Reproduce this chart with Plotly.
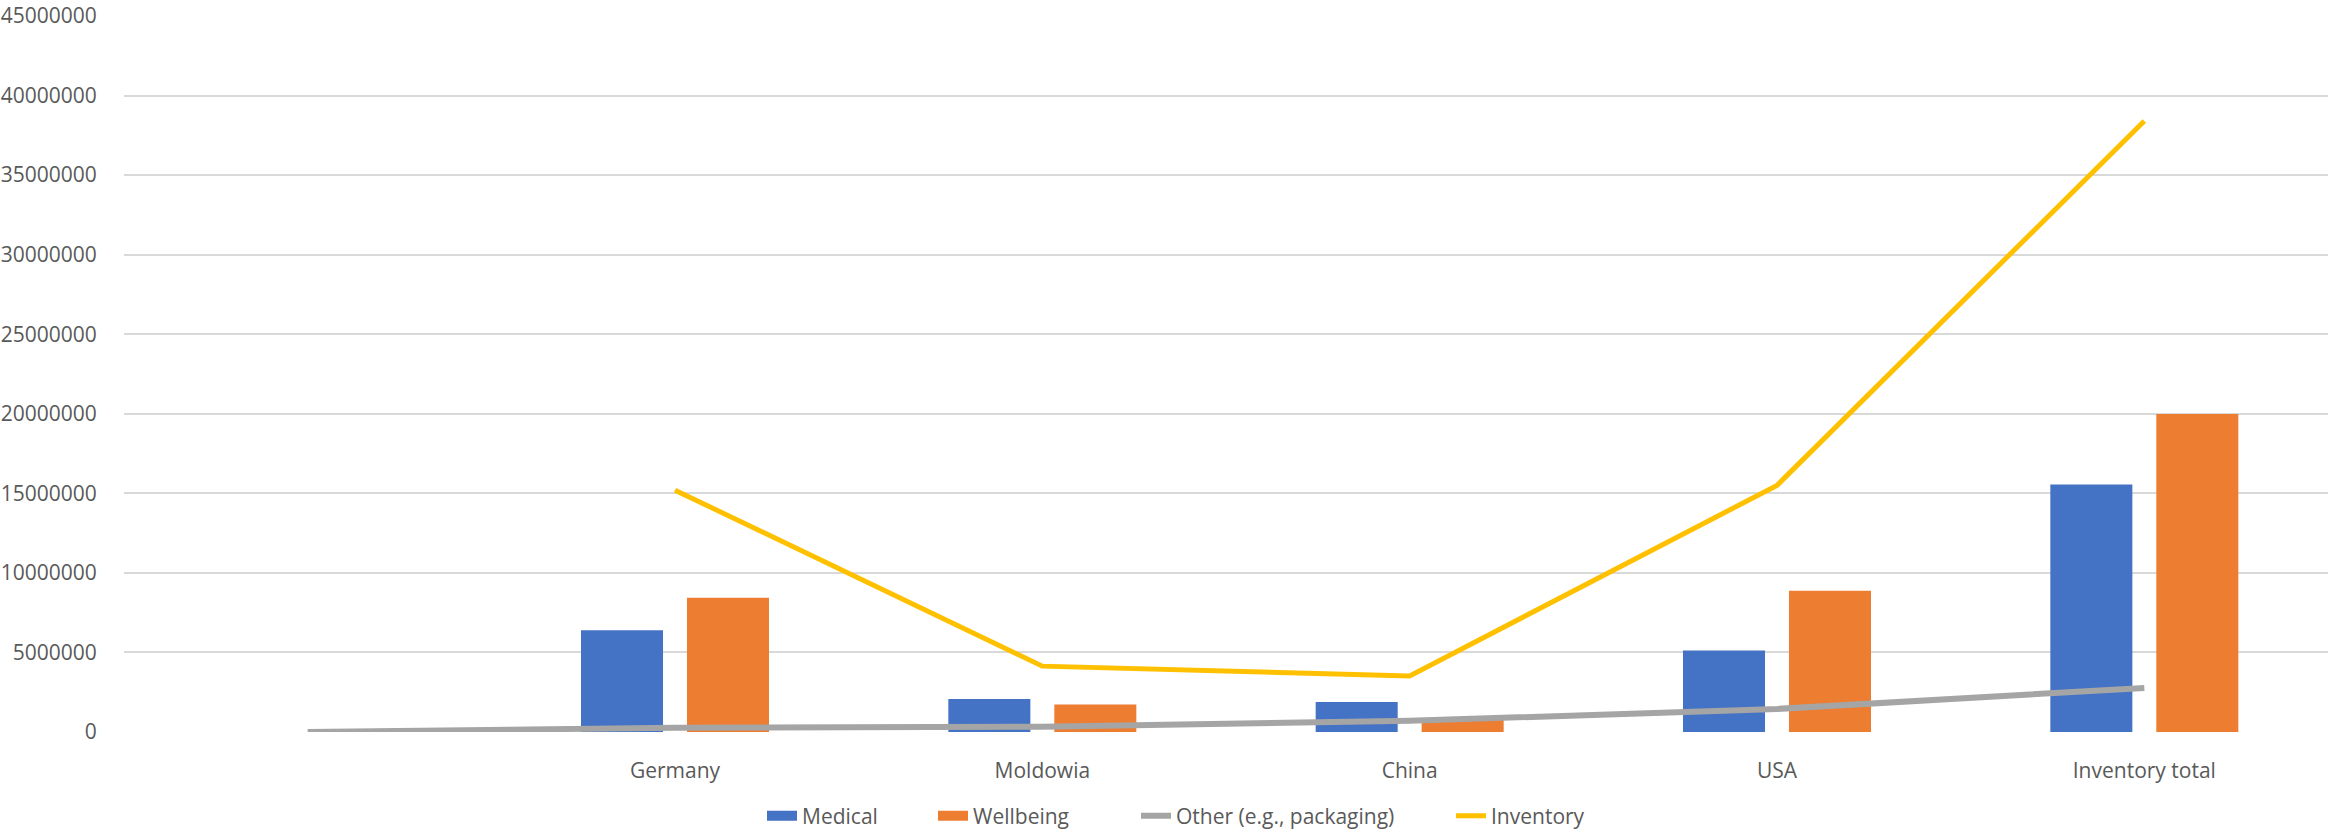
import plotly.graph_objects as go

categories = ["", "Germany", "Moldowia", "China", "USA", "Inventory total"]
medical = [None, 6400000, 2080000, 1880000, 5120000, 15550000]
wellbeing = [None, 8430000, 1730000, 870000, 8880000, 19980000]
other = [0, 270000, 330000, 700000, 1450000, 2770000]
inventory = [None, 15200000, 4140000, 3520000, 15500000, 38400000]
y_ticks = list(range(0, 45000001, 5000000))

xs = list(range(len(categories)))
FONT = "Open Sans, Liberation Sans, sans-serif"
TXT = "#595959"
C_MED, C_WELL, C_OTH, C_INV = "#4472C4", "#ED7D31", "#A5A5A5", "#FFC000"
W, H = 2330, 833

fig = go.Figure()
fig.add_trace(go.Bar(x=xs, y=medical, name="Medical", legendgroup="med", showlegend=False,
                     marker=dict(color=C_MED, line=dict(width=0))))
fig.add_trace(go.Bar(x=xs, y=wellbeing, name="Wellbeing", legendgroup="well", showlegend=False,
                     marker=dict(color=C_WELL, line=dict(width=0))))
fig.add_trace(go.Scatter(x=xs, y=other, name="Other (e.g., packaging)", mode="lines",
                         line=dict(color=C_OTH, width=6), legend="legend3"))
fig.add_trace(go.Scatter(x=xs, y=inventory, name="Inventory", mode="lines",
                         line=dict(color=C_INV, width=5), legend="legend4"))
# legend swatches for the bar series (rectangular, as in the original)
fig.add_trace(go.Scatter(x=[None], y=[None], name="Medical", legendgroup="med", mode="lines",
                         line=dict(color=C_MED, width=14), legend="legend"))
fig.add_trace(go.Scatter(x=[None], y=[None], name="Wellbeing", legendgroup="well", mode="lines",
                         line=dict(color=C_WELL, width=14), legend="legend2"))

def leg(px):
    return dict(orientation="h", xref="container", yref="container",
                x=px / W, xanchor="left", y=1 - 816 / H, yanchor="middle",
                font=dict(family=FONT, size=21, color=TXT), itemwidth=30,
                bgcolor="rgba(0,0,0,0)")

fig.update_layout(
    width=W, height=H,
    margin=dict(l=124, r=2, t=16, b=101),
    paper_bgcolor="white", plot_bgcolor="white",
    barmode="group", bargap=0.423, bargroupgap=0.226,
    font=dict(family=FONT, size=21, color=TXT),
    showlegend=True,
    legend=leg(762), legend2=leg(933), legend3=leg(1136), legend4=leg(1451),
)
fig.update_xaxes(range=[-0.5, len(categories) - 0.5], tickmode="array",
                 tickvals=xs, ticktext=categories, showgrid=False, zeroline=False,
                 showline=False, ticks="outside", ticklen=20, tickcolor="rgba(0,0,0,0)",
                 tickfont=dict(family=FONT, size=21, color=TXT))
fig.update_yaxes(range=[0, 45000000], tickmode="array", tickvals=y_ticks,
                 ticktext=[str(v) for v in y_ticks], showgrid=True,
                 gridcolor="#D9D9D9", gridwidth=1.5, zeroline=False, showline=False,
                 ticks="outside", ticklen=22, tickcolor="rgba(0,0,0,0)",
                 ticklabeloverflow="allow", automargin=False,
                 tickfont=dict(family=FONT, size=21, color=TXT))

fig.write_html("out.html")
